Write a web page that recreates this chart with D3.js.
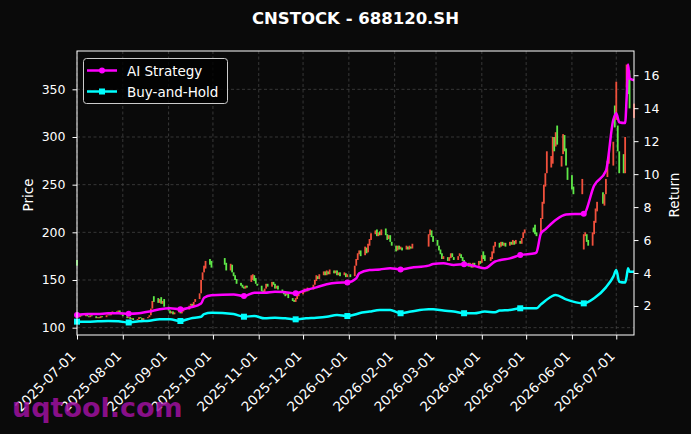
<!DOCTYPE html>
<html>
<head>
<meta charset="utf-8">
<script src="https://cdn.jsdelivr.net/npm/d3@7"></script>
<style>
html, body { margin: 0; padding: 0; background: #0a0a0a; }
svg { display: block; font-family: "DejaVu Sans", sans-serif; }
</style>
</head>
<body>
<div id="chart"></div>
<script>
// trading calendar
const startDate = "2025-07-01", endDate = "2026-07-13";
const holidays = ["2025-10-01","2025-10-02","2025-10-03","2025-10-06","2025-10-07","2025-10-08",
  "2026-01-01","2026-02-16","2026-02-17","2026-02-18","2026-02-19","2026-02-20","2026-02-23",
  "2026-04-06","2026-05-01","2026-05-04","2026-05-05","2026-06-03","2026-06-04","2026-06-05","2026-06-19"];

// daily open / close, one per trading day
const opens = [
  171,113,111,113,112,114,112,111,113,112,110,111,110,112,111,113,114,113,115,117,116,118,116,
  114,112,110,111,109,110,108,109,111,110,107,110,111,113,120,133,131,126,132,125,130,
  122,118,115,117,114,116,118,115,117,120,119,123,125,122,127,130,136,150,158,162,172,170,
  173,168,160,166,158,155,151,147,145,143,141,144,148,150,155,152,146,
  144,139,137,141,146,143,148,146,141,144,140,138,136,134,136,131,129,127,130,133,
  135,137,140,138,141,140,145,149,154,151,155,159,155,159,156,160,157,160,155,158,155,157,153,
  156,154,165,171,177,181,176,184,179,186,192,198,203,196,201,197,204,198,193,197,190,
  186,181,186,182,184,182,185,182,185,183,185,197,202,196,
  192,186,182,178,172,174,170,173,178,174,171,175,177,174,171,168,164,167,163,168,165,170,
  168,180,176,170,172,178,185,189,185,190,186,189,186,190,187,191,188,191,188,194,199,
  205,208,200,198,214,230,248,262,268,272,300,290,312,269,282,302,288,268,
  260,248,240,182,196,198,192,186,198,210,222,242,228,240,258,272,270,333,
  318,312,285,282,262,352,372,370,320
];
const closes = [
  165,111,113,112,114,112,111,113,112,110,111,110,112,111,113,114,113,115,117,116,118,116,114,
  112,110,111,109,110,108,109,111,110,106,110,111,113,120,128,127,126,130,125,128,122,
  118,115,117,114,116,118,115,117,120,119,123,125,122,127,130,136,150,158,165,170,166,163,
  166,160,167,158,154,150,146,144,142,141,144,142,155,156,149,146,144,
  138,137,141,146,143,148,145,141,144,140,137,135,133,136,131,128,127,131,134,137,
  139,141,138,142,139,145,150,155,151,156,159,155,160,156,161,157,160,155,158,154,158,153,156,
  153,165,172,178,181,175,185,178,188,193,199,202,196,200,197,203,197,192,197,190,186,
  180,186,182,185,181,186,182,186,183,188,198,203,195,190,
  186,181,177,172,175,170,174,178,174,171,175,178,173,170,167,164,168,163,168,165,170,167,
  176,172,170,174,180,186,190,184,190,186,189,185,190,187,192,187,192,188,194,200,203,
  200,198,196,215,232,250,262,285,280,300,285,305,292,280,303,285,270,255,
  245,240,256,198,200,190,186,200,212,225,232,230,240,256,275,282,295,310,
  358,285,262,262,300,376,345,330,335
];

// strategy curves, sampled at trading-day indices
const lineIdx = [0,5,10,15,20,25,30,35,40,45,50,55,60,62,65,70,75,80,85,90,95,100,105,110,115,120,125,128,
  130,135,140,145,150,155,157,160,165,170,175,180,185,189,190,195,200,205,206,207,210,215,220,225,230,235,
  238,240,242,244,245,246,247,248];
const aiReturn = [1.45,1.51,1.51,1.56,1.56,1.53,1.56,1.66,1.80,1.86,1.80,1.92,2.15,2.50,2.65,2.70,2.60,2.81,2.81,2.87,2.83,2.77,2.97,3.13,3.32,3.41,3.43,3.68,
  3.98,4.18,4.22,4.29,4.22,4.32,4.45,4.55,4.59,4.49,4.53,4.43,4.29,4.70,4.78,4.89,5.09,5.20,5.25,6.40,6.65,7.22,7.55,7.60,9.30,10.20,
  13.30,13.70,13.15,13.10,14.60,16.65,15.80,15.70];
const bhReturn = [1.05,1.05,1.07,1.09,1.07,1.00,1.07,1.11,1.19,1.19,1.09,1.25,1.35,1.51,1.59,1.51,1.35,1.39,1.25,1.29,1.25,1.19,1.25,1.29,1.35,1.45,1.39,1.50,
  1.56,1.66,1.76,1.76,1.56,1.66,1.80,1.80,1.72,1.66,1.56,1.56,1.66,1.62,1.72,1.76,1.86,1.86,1.86,2.10,2.32,2.67,2.40,2.16,2.47,3.13,
  3.78,4.18,3.47,3.42,3.78,4.29,4.08,4.08];

const priceTicks = [100,150,200,250,300,350];
const returnTicks = [2,4,6,8,10,12,14,16];

const W = 691, H = 434;
const plotL = 77, plotR = 634, plotT = 51, plotB = 335;
const upColor = "#f0503c", downColor = "#5ee848";
const aiColor = "#ff00ff", bhColor = "#00ffff";

const hol = new Set(holidays);
const fmt = d3.utcFormat("%Y-%m-%d");
const dates = d3.utcDay.range(new Date(startDate), d3.utcDay.offset(new Date(endDate), 1))
  .filter(d => d.getUTCDay() % 6 !== 0 && !hol.has(fmt(d)));

const x = d3.scaleUtc().domain([new Date(startDate), new Date(endDate)]).range([plotL, plotR]);
const y = d3.scaleLinear().domain([92.3, 390.2]).range([plotB, plotT]);
const y2 = d3.scaleLinear().domain([0.24, 17.47]).range([plotB, plotT]);

const svg = d3.select("#chart").append("svg")
  .attr("width", W).attr("height", H)
  .style("background", "#0a0a0a");

// grid
const grid = svg.append("g")
  .attr("stroke", "#4a4a4a").attr("stroke-width", 0.7).attr("stroke-dasharray", "3,2.5");
const monthTicks = d3.utcMonth.range(new Date(startDate), d3.utcDay.offset(new Date(endDate), 1));
grid.selectAll("line.v").data(monthTicks).join("line")
  .attr("x1", d => x(d)).attr("x2", d => x(d)).attr("y1", plotT).attr("y2", plotB);
grid.selectAll("line.h").data(priceTicks).join("line")
  .attr("x1", plotL).attr("x2", plotR).attr("y1", d => y(d)).attr("y2", d => y(d));

// candles
svg.append("g").selectAll("rect").data(dates).join("rect")
  .attr("x", d => x(d) - 0.9)
  .attr("width", 1.8)
  .attr("y", (d, i) => y(Math.max(opens[i], closes[i])))
  .attr("height", (d, i) => Math.max(1, Math.abs(y(opens[i]) - y(closes[i]))))
  .attr("fill", (d, i) => closes[i] >= opens[i] ? upColor : downColor);

// return lines
const line = d3.line()
  .x(d => x(dates[d[0]]))
  .y(d => y2(d[1]))
  .curve(d3.curveMonotoneX);
const aiPts = lineIdx.map((k, i) => [k, aiReturn[i]]);
const bhPts = lineIdx.map((k, i) => [k, bhReturn[i]]);

svg.append("path").datum(bhPts).attr("d", line)
  .attr("fill", "none").attr("stroke", bhColor).attr("stroke-width", 2.5);
svg.append("path").datum(aiPts).attr("d", line)
  .attr("fill", "none").attr("stroke", aiColor).attr("stroke-width", 2.5);

svg.append("g").selectAll("rect").data(bhPts.filter(d => d[0] % 25 === 0)).join("rect")
  .attr("x", d => x(dates[d[0]]) - 3).attr("y", d => y2(d[1]) - 3)
  .attr("width", 6).attr("height", 6).attr("fill", bhColor);
svg.append("g").selectAll("circle").data(aiPts.filter(d => d[0] % 25 === 0)).join("circle")
  .attr("cx", d => x(dates[d[0]])).attr("cy", d => y2(d[1]))
  .attr("r", 3).attr("fill", aiColor);

// axes
function styleAxis(g) {
  g.attr("font-size", null).attr("font-family", null);
  g.select(".domain").remove();
  g.selectAll("line").attr("stroke", "#fff");
  g.selectAll("text").attr("fill", "#fff")
    .style("font-family", "'DejaVu Sans', sans-serif").style("font-size", "12.5px");
}
svg.append("g").attr("transform", `translate(${plotL},0)`)
  .call(d3.axisLeft(y).tickValues(priceTicks).tickSize(4.5).tickPadding(7))
  .call(styleAxis);
svg.append("g").attr("transform", `translate(${plotR},0)`)
  .call(d3.axisRight(y2).tickValues(returnTicks).tickSize(4.5).tickPadding(5))
  .call(styleAxis);
const xa = svg.append("g").attr("transform", `translate(0,${plotB})`)
  .call(d3.axisBottom(x).tickValues(monthTicks).tickFormat(fmt).tickSize(4.5))
  .call(styleAxis);
xa.selectAll("text")
  .attr("text-anchor", "end")
  .attr("dy", null)
  .attr("y", 0)
  .style("font-size", "13.5px")
  .attr("transform", "translate(-1,22) rotate(-45)");

svg.append("rect")
  .attr("x", plotL).attr("y", plotT).attr("width", plotR - plotL).attr("height", plotB - plotT)
  .attr("fill", "none").attr("stroke", "#fff").attr("stroke-width", 1);

// labels
svg.append("text").attr("x", (plotL + plotR) / 2).attr("y", 24)
  .attr("text-anchor", "middle").attr("fill", "#fff")
  .style("font-size", "16.5px").style("font-weight", "bold")
  .text("CNSTOCK - 688120.SH");
svg.append("text").attr("transform", "translate(28,195) rotate(-90)")
  .attr("text-anchor", "middle").attr("dominant-baseline", "central")
  .attr("fill", "#fff").style("font-size", "13.5px").text("Price");
svg.append("text").attr("transform", "translate(674,195) rotate(-90)")
  .attr("text-anchor", "middle").attr("dominant-baseline", "central")
  .attr("fill", "#fff").style("font-size", "13.5px").text("Return");

// legend
const lg = svg.append("g");
lg.append("rect").attr("x", 83.5).attr("y", 58.5).attr("width", 144).attr("height", 45).attr("rx", 3)
  .attr("fill", "#000").attr("fill-opacity", 0.8).attr("stroke", "#cccccc").attr("stroke-width", 1);
const items = [{name: "AI Strategy", color: aiColor, mark: "circle"},
               {name: "Buy-and-Hold", color: bhColor, mark: "square"}];
items.forEach((it, i) => {
  const yy = 70.5 + i * 21;
  lg.append("line").attr("x1", 87).attr("x2", 117).attr("y1", yy).attr("y2", yy)
    .attr("stroke", it.color).attr("stroke-width", 2.5);
  if (it.mark === "circle") {
    lg.append("circle").attr("cx", 102).attr("cy", yy).attr("r", 3).attr("fill", it.color);
  } else {
    lg.append("rect").attr("x", 99).attr("y", yy - 3).attr("width", 6).attr("height", 6).attr("fill", it.color);
  }
  lg.append("text").attr("x", 127).attr("y", yy).attr("dominant-baseline", "central")
    .attr("fill", "#fff").style("font-size", "13.5px").text(it.name);
});

// watermark, semi-transparent over the date labels
svg.append("text").attr("x", 12).attr("y", 417)
  .attr("fill", "#a010a0").attr("fill-opacity", 0.85)
  .style("font-size", "27px").style("font-weight", "bold")
  .text("uqtool.com");
</script>
</body>
</html>
